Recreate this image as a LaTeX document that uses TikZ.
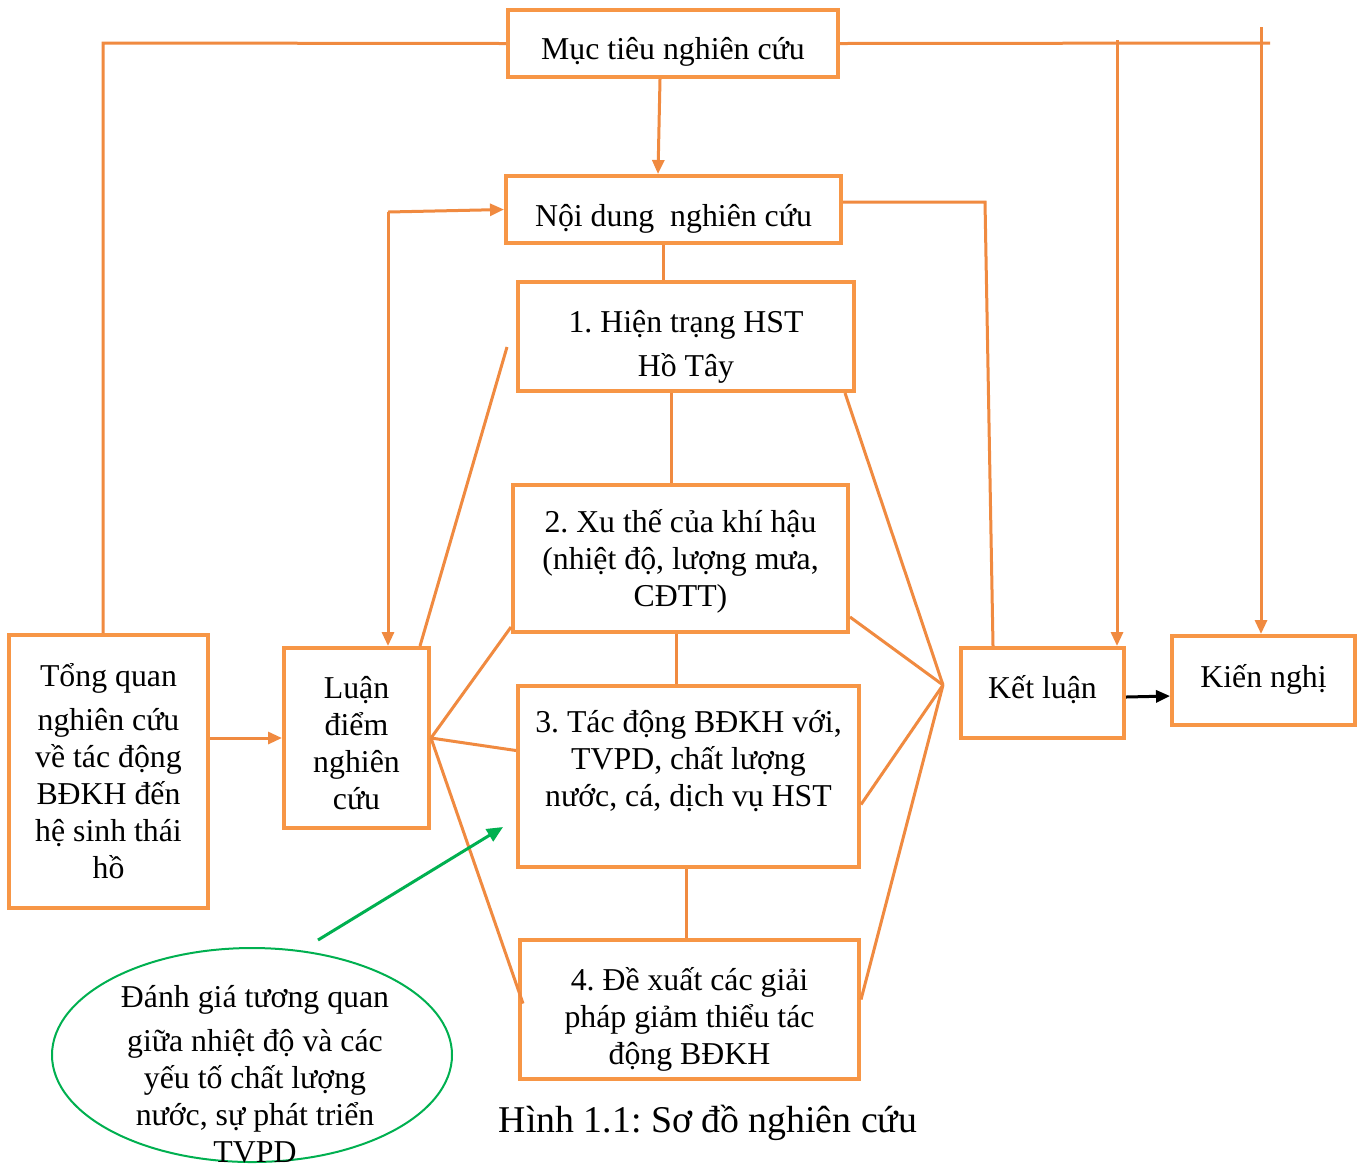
\documentclass[tikz,border=0pt]{standalone}
\usepackage{fontspec}
\setmainfont{Liberation Serif}
\usetikzlibrary{arrows.meta,shapes.geometric}
\definecolor{obox}{HTML}{F79646}
\definecolor{oline}{HTML}{F08A40}
\definecolor{gline}{HTML}{00B050}
\begin{document}
\frenchspacing
\begin{tikzpicture}[x=0.5pt,y=-0.5pt,
  box/.style={draw=obox,line width=2pt,inner sep=0pt},
  conn/.style={draw=oline,line width=1.5pt},
  arr/.style={conn,-{Triangle[length=7pt,width=6pt]}},
  txt/.style={inner sep=0pt,align=center,font=\fontsize{15.9pt}{18.5pt}\selectfont}]
\useasboundingbox[fill=white] (0,0) rectangle (1363,1164);

% boxes
\node[box,minimum width=165pt,minimum height=33.5pt] (muctieu) at (673,43.5) {};
\node[box,minimum width=167.5pt,minimum height=33.5pt] (noidung) at (673.5,209.5) {};
\node[box,minimum width=168pt,minimum height=54.5pt] (box1) at (686,336.5) {};
\node[box,minimum width=167.5pt,minimum height=73.5pt] (box2) at (680.5,558.5) {};
\node[box,minimum width=170.5pt,minimum height=90.5pt] (box3) at (688.5,776.5) {};
\node[box,minimum width=169.5pt,minimum height=69.5pt] (box4) at (689.5,1009.5) {};
\node[box,minimum width=99.5pt,minimum height=136.5pt] (tq) at (108.5,771.5) {};
\node[box,minimum width=72.5pt,minimum height=90pt] (luandiem) at (356.5,738) {};
\node[box,minimum width=81.5pt,minimum height=45pt] (ketluan) at (1042.5,693) {};
\node[box,minimum width=91.5pt,minimum height=44.5pt] (kiennghi) at (1263.5,680.5) {};

% box texts
\node[txt] (muctieu-t) at ([yshift=-4pt]muctieu.center) {Mục tiêu nghiên cứu};
\node[txt] (noidung-t) at ([yshift=-4.5pt]noidung.center) {Nội dung\ \ nghiên cứu};
\node[txt] (box1-t) at ([yshift=-5pt]box1.center) {1. Hiện trạng HST\\[3.5pt]Hồ Tây};
\node[txt] (box2-t) at ([yshift=-1.5pt]box2.center) {2. Xu thế của khí hậu\\(nhiệt độ, lượng mưa,\\CĐTT)};
\node[txt] (box3-t) at ([yshift=7.5pt]box3.center) {3. Tác động BĐKH với,\\TVPD, chất lượng\\nước, cá, dịch vụ HST};
\node[txt] (box4-t) at ([yshift=-5pt]box4.center) {4. Đề xuất các giải\\pháp giảm thiểu tác\\động BĐKH};
\node[txt] (tq-t) at (tq.center) {Tổng quan\\[3.5pt]nghiên cứu\\về tác động\\BĐKH đến\\hệ sinh thái\\hồ};
\node[txt] (luandiem-t) at ([yshift=-2.5pt]luandiem.center) {Luận\\điểm\\nghiên\\cứu};
\node[txt] (ketluan-t) at ([yshift=1.5pt]ketluan.center) {Kết luận};
\node[txt] (kiennghi-t) at ([yshift=0.5pt]kiennghi.center) {Kiến nghị};

% ellipse
\node[draw=gline,line width=1pt,ellipse,minimum width=200pt,minimum height=107pt,inner sep=0pt] (ell) at (252,1055) {};
\node[txt] (elltext) at (255,1074) {Đánh giá tương quan\\[3.5pt]giữa nhiệt độ và các\\yếu tố chất lượng\\nước, sự phát triển\\TVPD};

% caption
\node[inner sep=0pt,font=\fontsize{18.9pt}{21pt}\selectfont] (caption) at (708,1123) {Hình 1.1: Sơ đồ nghiên cứu};

% coordinates
\coordinate (cTL) at (103,43);
\coordinate (cTR) at (1270,43);
\coordinate (cK1) at (1117,40);
\coordinate (cK2) at (1261,27);
\coordinate (cA) at (660,0);
\coordinate (cN) at (388,212);
\coordinate (cR1) at (985,202);
\coordinate (cR2) at (993,0);
\coordinate (cF) at (507,347);
\coordinate (cP) at (943,685);
\coordinate (v1) at (663,0);
\coordinate (v2) at (671,0);
\coordinate (v3) at (676,0);
\coordinate (v4) at (686,0);
\coordinate (g1) at (318,940);
\coordinate (g2) at (503,827);
\coordinate (kk) at (0,696);

% top frame
\draw[conn] (muctieu.west) -- (cTL) -- (cTL |- tq.north);
\draw[conn] (muctieu.east) -- (cTR);
\draw[arr] (cK1) -- (cK1 |- ketluan.north);
\draw[arr] (cK2) -- (cK2 |- kiennghi.north);
\draw[arr] (cA |- muctieu.south) -- ([xshift=-1pt]cA |- noidung.north);

% noi dung connections
\draw[arr] (cN) -- (noidung.west);
\draw[arr] (cN) -- (cN |- luandiem.north);
\draw[conn] (noidung.east |- cR1) -- (cR1) -- (cR2 |- ketluan.north);

% vertical chain
\draw[conn] (v1 |- noidung.south) -- (v1 |- box1.north);
\draw[conn] (v2 |- box1.south) -- (v2 |- box2.north);
\draw[conn] (v3 |- box2.south) -- (v3 |- box3.north);
\draw[conn] (v4 |- box3.south) -- (v4 |- box4.north);

% luan diem fan
\draw[conn] (cF) -- ([xshift=-5.5pt]luandiem.north east);
\draw[conn] (luandiem.east) -- ([yshift=3.5pt]box2.south west);
\draw[conn] (luandiem.east) -- ([yshift=13pt]box3.west);
\draw[conn] (luandiem.east) -- ([xshift=2.5pt,yshift=3pt]box4.west);
\draw[arr] (tq.east |- luandiem.west) -- (luandiem.west);

% convergence to ket luan
\draw[conn] ([xshift=-5.5pt]box1.south east) -- (cP);
\draw[conn] ([yshift=8.5pt]box2.south east) -- (cP);
\draw[conn] ([yshift=-14pt]box3.east) -- (cP);
\draw[conn] ([yshift=5pt]box4.east) -- (cP);

% ket luan -> kien nghi
\draw[line width=1.5pt,-{Triangle[length=7pt,width=6pt]}] ([yshift=-2pt]ketluan.east) -- (kiennghi.west |- kk);

% green arrow
\draw[draw=gline,line width=1.5pt,-{Triangle[length=8pt,width=7pt]}] (g1) -- (g2);
\end{tikzpicture}
\end{document}
